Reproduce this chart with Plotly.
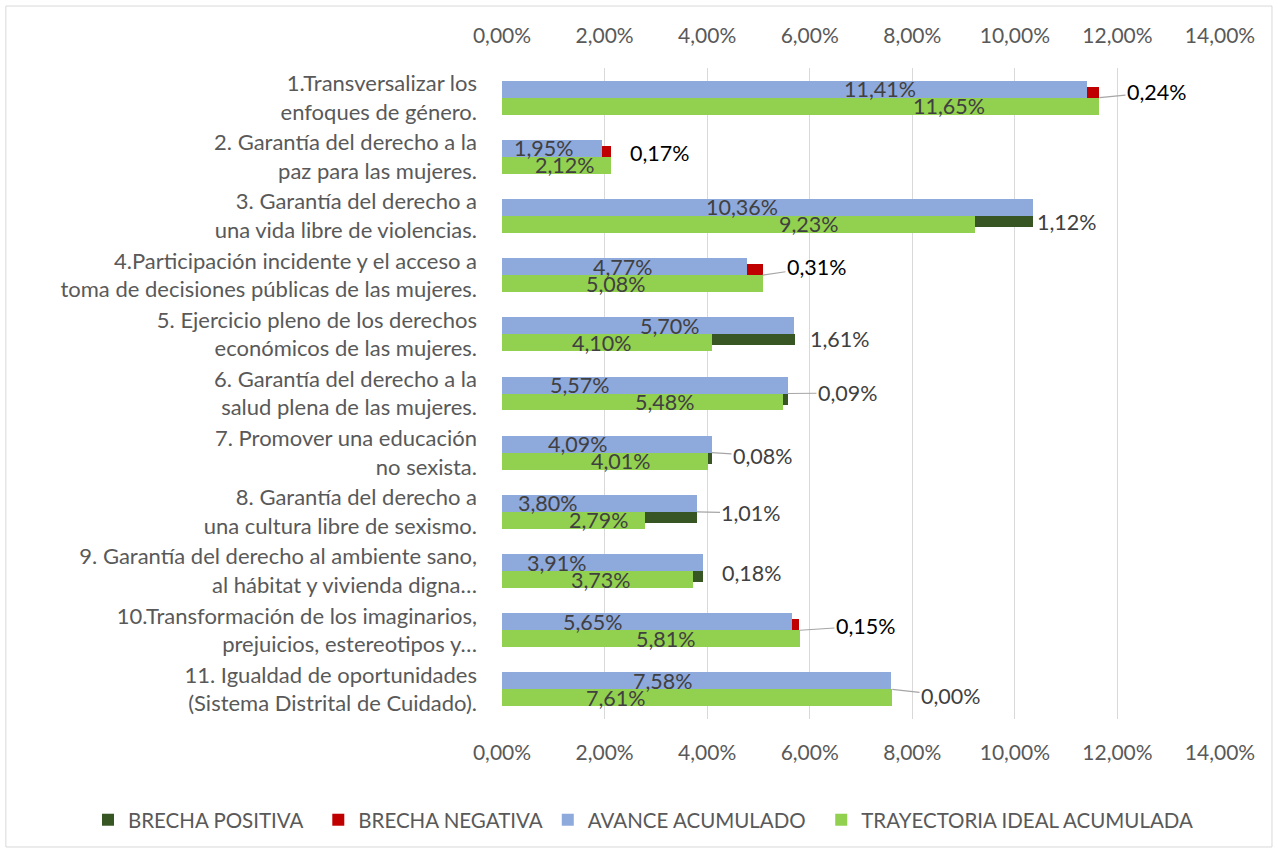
import plotly.graph_objects as go

# ---------------- data ----------------
categories = [
    "1.Transversalizar los<br>enfoques de género.",
    "2. Garantía del derecho a la<br>paz para las mujeres.",
    "3. Garantía del derecho a<br>una vida libre de violencias.",
    "4.Participación incidente y el acceso a<br>toma de decisiones públicas de las mujeres.",
    "5. Ejercicio pleno de los derechos<br>económicos de las mujeres.",
    "6. Garantía del derecho a la<br>salud plena de las mujeres.",
    "7. Promover una educación<br>no sexista.",
    "8. Garantía del derecho a<br>una cultura libre de sexismo.",
    "9. Garantía del derecho al ambiente sano,<br>al hábitat y vivienda digna…",
    "10.Transformación de los imaginarios,<br>prejuicios, estereotipos y…",
    "11. Igualdad de oportunidades<br>(Sistema Distrital de Cuidado).",
]
avance = [11.41, 1.95, 10.36, 4.77, 5.70, 5.57, 4.09, 3.80, 3.91, 5.65, 7.58]
ideal = [11.65, 2.12, 9.23, 5.08, 4.10, 5.48, 4.01, 2.79, 3.73, 5.81, 7.61]
brecha_positiva = [None, None, 1.12, None, 1.61, 0.09, 0.08, 1.01, 0.18, None, 0.00]
brecha_negativa = [0.24, 0.17, None, 0.31, None, None, None, None, None, 0.15, None]
x_ticks = [0, 2, 4, 6, 8, 10, 12, 14]
x_tick_labels = [f"{v:.2f}%".replace(".", ",") for v in x_ticks]
series_names = ["BRECHA POSITIVA", "BRECHA NEGATIVA", "AVANCE ACUMULADO",
                "TRAYECTORIA IDEAL ACUMULADA"]

# ---------------- label placement (layout, not data) ----------------
avance_label_pos = [7.38, 0.82, 4.68, 2.36, 3.28, 1.52, 1.48, 0.90, 1.07, 1.77, 3.14]
ideal_label_pos = [8.71, 1.23, 5.99, 2.22, 1.95, 3.17, 2.32, 1.90, 1.93, 3.20, 2.22]
gap_dx = [57.5, 49.3, 33.7, 54.5, 45.7, 60.3, 51.2, 54.6, 49.0, 66.0, 58.7]
gap_dy = [-5.6, -3.8, 6.0, -8.0, 4.6, -0.5, 3.3, 1.1, 1.9, -4.3, 6.5]
gap_leader = [True, False, False, True, False, True, True, True, False, True, True]
legend_pad = ["\u00a0\u00a0", "", "\u00a0\u00a0", ""]

FONT = "Lato"
C_POS = "#375623"
C_NEG = "#C00000"
C_AV = "#8EA9DB"
C_ID = "#92D050"
W_MAIN = 0.287
W_GAP = 0.186
LBL = 21.5

rows = list(range(len(categories)))

fig = go.Figure()

pos_rows = [r for r in rows if brecha_positiva[r] is not None]
fig.add_trace(go.Bar(
    name=series_names[0] + legend_pad[0], orientation="h",
    y=pos_rows, x=[brecha_positiva[r] for r in pos_rows],
    base=[ideal[r] for r in pos_rows],
    width=W_GAP, offset=0, marker_color=C_POS, marker_line_width=0,
))
neg_rows = [r for r in rows if brecha_negativa[r] is not None]
fig.add_trace(go.Bar(
    name=series_names[1] + legend_pad[1], orientation="h",
    y=neg_rows, x=[brecha_negativa[r] for r in neg_rows],
    base=[avance[r] for r in neg_rows],
    width=W_GAP, offset=-W_GAP, marker_color=C_NEG, marker_line_width=0,
))
fig.add_trace(go.Bar(
    name=series_names[2] + legend_pad[2], orientation="h",
    y=rows, x=avance, width=W_MAIN, offset=-W_MAIN,
    marker_color=C_AV, marker_line_width=0,
))
fig.add_trace(go.Bar(
    name=series_names[3] + legend_pad[3], orientation="h",
    y=rows, x=ideal, width=W_MAIN, offset=0,
    marker_color=C_ID, marker_line_width=0,
))
fig.add_trace(go.Scatter(x=[0, 14], y=[0, 0], xaxis="x2", mode="markers",
                         marker=dict(opacity=0), showlegend=False, hoverinfo="skip"))

annotations = []
for r in rows:
    annotations.append(dict(
        x=avance_label_pos[r], y=r - W_MAIN / 2, xref="x", yref="y",
        text=f"{avance[r]:.2f}%".replace(".", ","), showarrow=False,
        font=dict(family=FONT, size=LBL, color="#404040"),
        xanchor="center", yanchor="middle",
    ))
    annotations.append(dict(
        x=ideal_label_pos[r], y=r + W_MAIN / 2, xref="x", yref="y",
        text=f"{ideal[r]:.2f}%".replace(".", ","), showarrow=False,
        font=dict(family=FONT, size=LBL, color="#404040"),
        xanchor="center", yanchor="middle",
    ))
    if brecha_positiva[r] is not None:
        val, col = brecha_positiva[r], "#404040"
    else:
        val, col = brecha_negativa[r], "#000000"
    end = max(avance[r], ideal[r])
    txt = f"{val:.2f}%".replace(".", ",")
    if gap_leader[r]:
        annotations.append(dict(
            x=end, y=r, xref="x", yref="y", text=txt,
            showarrow=True, arrowhead=0, arrowwidth=1.2, arrowcolor="#A6A6A6",
            ax=gap_dx[r], ay=gap_dy[r], standoff=0,
            font=dict(family=FONT, size=LBL, color=col),
        ))
    else:
        annotations.append(dict(
            x=end, y=r, xref="x", yref="y", text=txt, showarrow=False,
            xshift=gap_dx[r], yshift=-gap_dy[r], xanchor="center", yanchor="middle",
            font=dict(family=FONT, size=LBL, color=col),
        ))

axis_common = dict(
    range=[0, 14], tickmode="array", tickvals=x_ticks, ticktext=x_tick_labels,
    showgrid=True, gridcolor="#D9D9D9", gridwidth=1.3, zeroline=False,
    showline=False, tickfont=dict(family=FONT, size=21, color="#595959"),
    ticks="", fixedrange=True,
)

fig.update_layout(
    width=1278, height=853,
    margin=dict(l=502, r=58, t=68, b=134, pad=0),
    paper_bgcolor="white", plot_bgcolor="white",
    separators=",.",
    barmode="overlay",
    bargap=0,
    xaxis=dict(**axis_common, side="bottom", ticklabelstandoff=19),
    xaxis2=dict(**axis_common, side="top", overlaying="x", matches="x", ticklabelstandoff=20),
    yaxis=dict(
        range=[len(categories) - 0.5, -0.5], tickvals=rows, ticktext=categories,
        showgrid=False, zeroline=False, showline=False, ticks="",
        tickfont=dict(family=FONT, size=22, color="#595959"),
        ticklabelstandoff=24, fixedrange=True,
    ),
    legend=dict(
        orientation="h", x=(88 - 502) / 718, xanchor="left", y=-0.155, yanchor="middle",
        font=dict(family=FONT, size=20.5, color="#595959"),
        traceorder="normal", itemwidth=30,
    ),
    annotations=annotations,
    shapes=[dict(
        type="rect", xref="paper", yref="paper",
        x0=-0.691, x1=1.0724, y0=-0.1966, y1=1.0952,
        line=dict(color="#D9D9D9", width=1), fillcolor="rgba(0,0,0,0)", layer="below",
    )],
    showlegend=True,
)

fig.write_html("out.html", config={"displayModeBar": False},
               post_script="document.body.style.margin='0';")
